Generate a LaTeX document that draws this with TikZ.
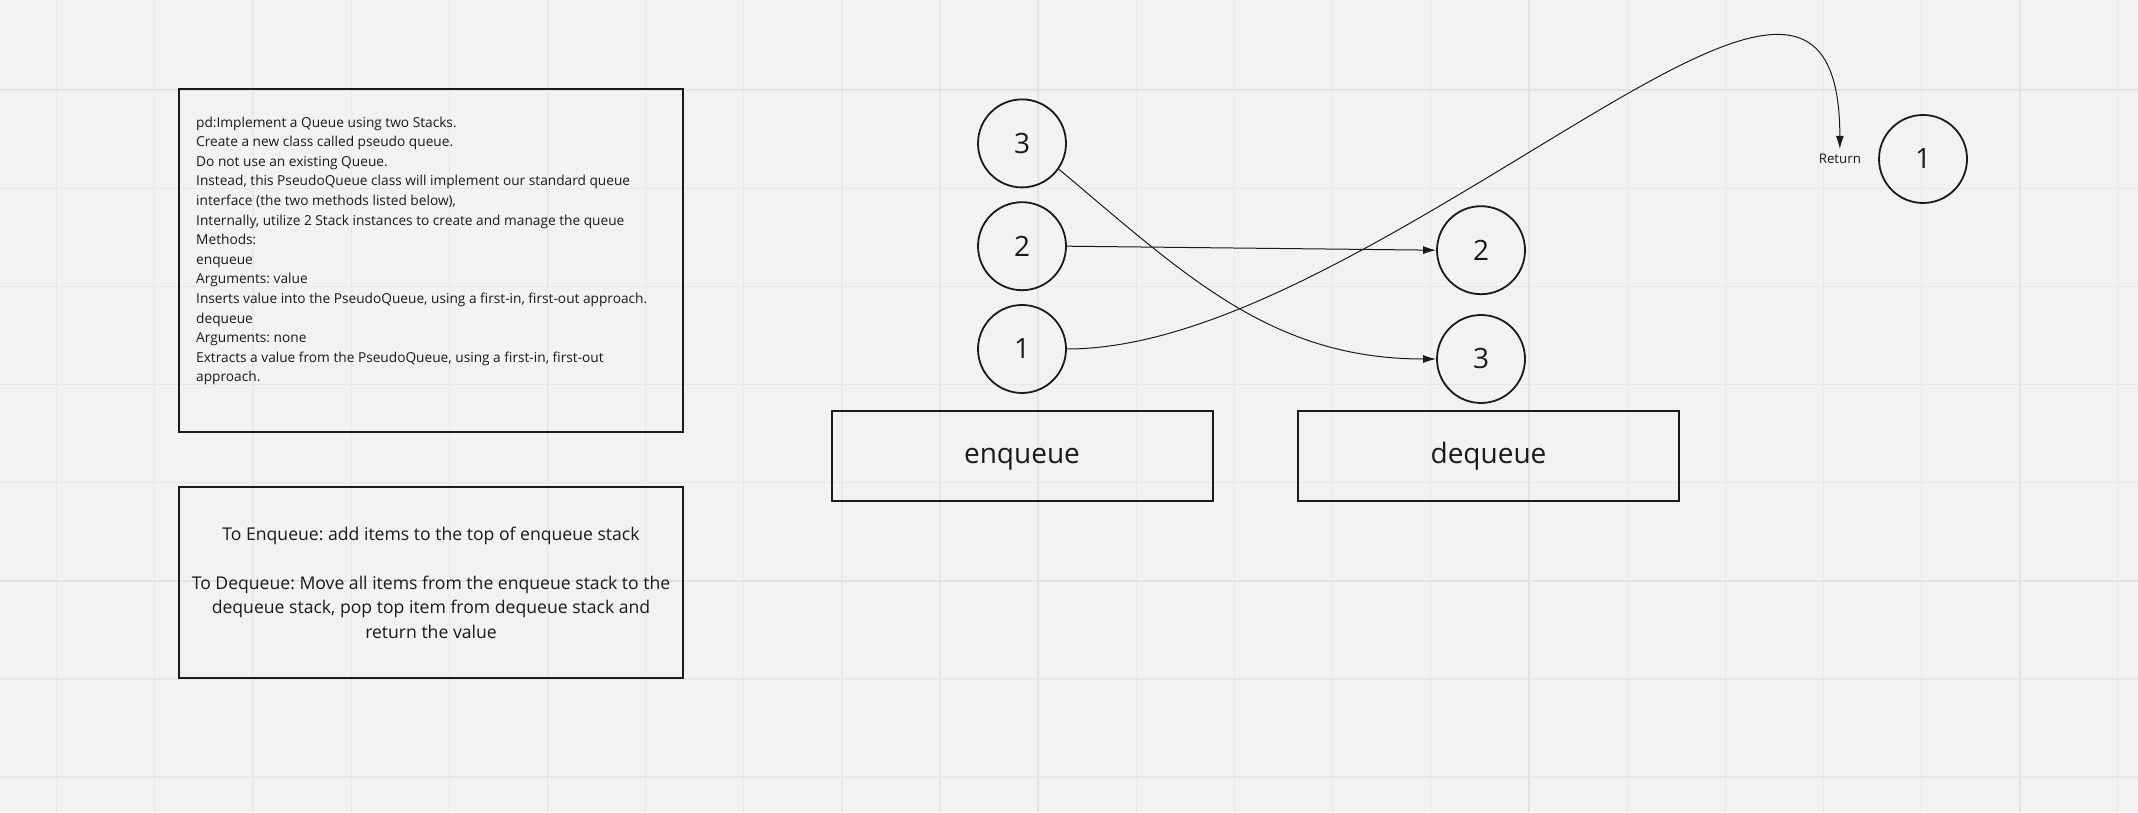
\documentclass[tikz,border=0pt]{standalone}
\usepackage{fontspec}
\setmainfont{Open Sans}
\usetikzlibrary{arrows.meta, positioning}
\frenchspacing

\definecolor{boardbg}{HTML}{F2F2F2}
\definecolor{gridln}{HTML}{E8E8E8}
\definecolor{gridmaj}{HTML}{E2E2E2}
\definecolor{inkc}{HTML}{1A1A1A}

\tikzset{
  stackitem/.style={circle, draw=inkc, line width=1.8pt, minimum size=88pt, inner sep=0pt,
    font=\fontsize{28}{32}\selectfont, text=inkc},
  stackbox/.style={rectangle, draw=inkc, line width=2pt, minimum width=381pt, minimum height=89pt,
    text height=21.3pt, text depth=6.7pt, font=\fontsize{28}{32}\selectfont, text=inkc},
  notebox/.style={rectangle, draw=inkc, line width=2pt, minimum width=504pt, inner sep=0pt, text=inkc},
  link/.style={draw=inkc, line width=1pt, -{Latex[length=13pt,width=8pt]}},
}

\begin{document}
\begin{tikzpicture}[x=1pt, y=1pt]
% board and grid
\useasboundingbox (0,0) rectangle (2138,812);
\fill[boardbg] (0,0) rectangle (2138,812);
\foreach \k in {0,...,21}
  \draw[gridln, line width=1.2pt] ({56.7+98.15*\k},0) -- ({56.7+98.15*\k},812);
\foreach \k in {0,...,7}
  \draw[gridln, line width=1.2pt] (0,{722-98.15*\k}) -- (2138,{722-98.15*\k});
\foreach \k in {5,10,15,20}
  \draw[gridmaj, line width=1.6pt] ({56.7+98.15*\k},0) -- ({56.7+98.15*\k},812);
\foreach \k in {0,5}
  \draw[gridmaj, line width=1.6pt] (0,{722-98.15*\k}) -- (2138,{722-98.15*\k});

% problem statement
\node[notebox, minimum height=343pt] (spec) at (431,551.5) {};
\node[below right=28.5pt and 18pt of spec.north west, inner sep=0pt, align=left, text=inkc,
  font=\fontsize{13.7}{19.6}\selectfont] (spectext) {pd:Implement a Queue using two Stacks.\\
Create a new class called pseudo queue.\\
Do not use an existing Queue.\\
Instead, this PseudoQueue class will implement our standard queue\\
interface (the two methods listed below),\\
Internally, utilize 2 Stack instances to create and manage the queue\\
Methods:\\
enqueue\\
Arguments: value\\
Inserts value into the PseudoQueue, using a first-in, first-out approach.\\
dequeue\\
Arguments: none\\
Extracts a value from the PseudoQueue, using a first-in, first-out\\
approach.};

% how it works
\node[notebox, minimum height=191pt, align=center, font=\fontsize{17.6}{24.5}\selectfont] (howto) at (431,229.5)
  {To Enqueue: add items to the top of enqueue stack\\[24.5pt]
   To Dequeue: Move all items from the enqueue stack to the\\
   dequeue stack, pop top item from dequeue stack and\\
   return the value};

% the two stacks
\node[stackbox] (enq) at (1022,356) {enqueue};
\node[stackbox] (deq) at (1488.5,356) {dequeue};
\node[stackitem] (e1) at (1022,463) {1};
\node[stackitem, above=13pt of e1] (e2) {2};
\node[stackitem, above=13pt of e2] (e3) {3};
\node[stackitem] (d3) at (1481,453) {3};
\node[stackitem, above=19pt of d3] (d2) {2};

% returned value
\node[stackitem] (out1) at (1923,653) {1};
\node[left=17pt of out1, inner xsep=0pt, inner ysep=5pt, text=inkc,
  font=\fontsize{13.3}{16}\selectfont] (retlbl) {Return};

% moves
\coordinate (bend) at (1480,630);
\draw[link] (e2.east) -- (d2.west);
\draw[link] (e3.-35) to[out=-40, in=180] (d3.west);
\draw[link] (e1.east) to[out=0, in=-149, out distance=120pt, in distance=174pt] (bend)
  to[out=31, in=90, out distance=250pt, in distance=200pt] (retlbl.north);
\end{tikzpicture}
\end{document}
